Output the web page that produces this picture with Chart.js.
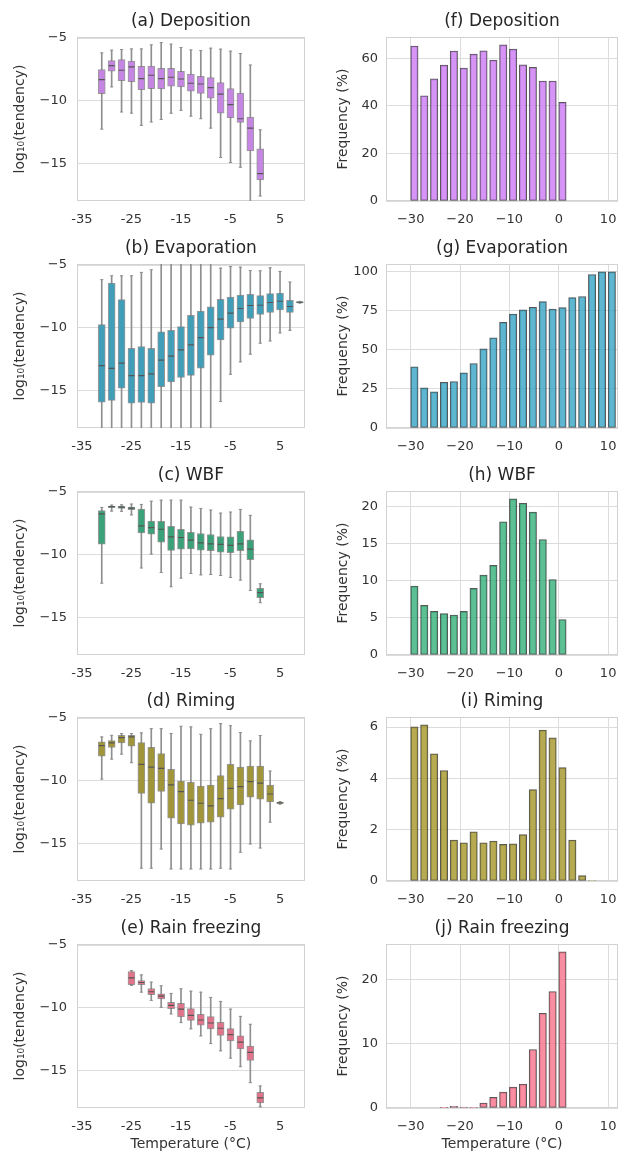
<!DOCTYPE html>
<html>
<head>
<meta charset="utf-8">
<script src="https://cdn.jsdelivr.net/npm/chart.js@4.4.1/dist/chart.umd.min.js"></script>
<style>
    html, body { margin: 0; padding: 0; background: #fff; }
    #fig { position: relative; width: 621px; height: 1153px; overflow: hidden; }
    #fig canvas { position: absolute; }
</style>
</head>
<body>
<div id="fig"></div>
<script>
// Box statistics per 2 °C bin (bin centre), rows are [whisker low, q1, median, q3, whisker high]
const depositionT = [-31, -29, -27, -25, -23, -21, -19, -17, -15, -13, -11, -9, -7, -5, -3, -1, 1];
const depositionBox = [
    [-12.27, -9.44, -8.32, -7.52, -6.19], [-8.9, -7.65, -7.2, -6.8, -5.97],
    [-10.9, -8.4, -7.57, -6.72, -5.92], [-10.99, -8.48, -7.31, -6.85, -5.87],
    [-11.97, -9.12, -8.24, -7.25, -5.87], [-11.7, -9.04, -7.97, -7.23, -5.55],
    [-11.5, -9.07, -8.24, -7.41, -5.36], [-11.0, -8.85, -8.13, -7.41, -5.49],
    [-10.77, -8.91, -8.27, -7.65, -5.76], [-11.23, -9.25, -8.61, -7.87, -5.95],
    [-11.44, -9.41, -8.67, -8.05, -6.0], [-12.19, -9.79, -8.96, -8.16, -5.81],
    [-14.53, -10.99, -9.47, -8.56, -5.89], [-14.93, -11.36, -10.32, -9.04, -6.05],
    [-15.31, -11.73, -11.44, -9.39, -6.24], [-18.5, -14.0, -12.19, -11.31, -7.15],
    [-17.6, -16.32, -15.81, -13.84, -12.32]
];

const evaporationT = [-31, -29, -27, -25, -23, -21, -19, -17, -15, -13, -11, -9, -7, -5, -3, -1, 1, 3, 5, 7, 9];
const evaporationBox = [
    [-18.5, -15.94, -13.03, -9.76, -6.17], [-18.5, -15.8, -13.25, -6.44, -5.86],
    [-18.5, -14.83, -12.82, -7.76, -5.86], [-18.5, -16.02, -13.83, -11.64, -5.86],
    [-18.5, -15.96, -13.83, -11.5, -5.59], [-18.5, -16.02, -13.69, -11.64, -5.38],
    [-18.5, -14.7, -12.59, -10.32, -4.5], [-18.5, -14.33, -12.27, -10.21, -4.5],
    [-18.5, -13.96, -11.77, -9.92, -4.5], [-18.5, -13.8, -11.37, -9.02, -4.5],
    [-18.5, -13.22, -10.79, -8.68, -4.5], [-18.5, -12.19, -10.0, -8.34, -4.5],
    [-15.88, -10.98, -9.31, -7.73, -5.25], [-13.72, -10.03, -8.84, -7.55, -5.12],
    [-12.72, -9.53, -8.47, -7.39, -5.17], [-12.11, -9.26, -8.23, -7.34, -5.44],
    [-11.24, -8.94, -8.21, -7.44, -5.46], [-11.06, -8.79, -7.99, -7.28, -5.22],
    [-10.42, -8.58, -7.89, -7.23, -5.51], [-10.21, -8.79, -8.31, -7.81, -6.36],
    [-8.04, -8.02, -7.97, -7.92, -7.9]
];

const wbfT = [-31, -29, -27, -25, -23, -21, -19, -17, -15, -13, -11, -9, -7, -5, -3, -1, 1];
const wbfBox = [
    [-12.27, -9.16, -6.75, -6.49, -6.23], [-6.52, -6.25, -6.17, -6.12, -6.04],
    [-6.54, -6.31, -6.2, -6.12, -6.02], [-6.83, -6.41, -6.28, -6.2, -5.96],
    [-11.06, -8.26, -7.7, -6.36, -5.99], [-9.95, -8.36, -7.84, -7.31, -5.73],
    [-11.42, -9.0, -7.97, -7.34, -5.65], [-12.56, -9.66, -8.58, -7.73, -5.65],
    [-11.87, -9.55, -8.63, -7.97, -5.65], [-11.5, -9.53, -8.84, -8.21, -6.2],
    [-11.61, -9.63, -9.05, -8.31, -6.31], [-11.58, -9.68, -9.13, -8.39, -6.44],
    [-11.66, -9.79, -9.18, -8.55, -6.68], [-11.82, -9.84, -9.26, -8.58, -6.6],
    [-12.03, -9.68, -9.13, -8.13, -6.39], [-12.85, -10.4, -9.55, -8.81, -6.86],
    [-13.83, -13.43, -13.03, -12.69, -12.32]
];

const rimingT = [-31, -29, -27, -25, -23, -21, -19, -17, -15, -13, -11, -9, -7, -5, -3, -1, 1, 3, 5];
const rimingBox = [
    [-9.87, -8.04, -7.2, -6.9, -6.51], [-8.28, -7.35, -6.98, -6.8, -6.38],
    [-7.88, -6.98, -6.56, -6.38, -6.24], [-8.57, -7.25, -6.51, -6.38, -6.24],
    [-16.98, -11.01, -8.7, -6.96, -6.19], [-16.98, -11.8, -8.92, -7.33, -5.85],
    [-15.45, -10.85, -9.02, -7.83, -5.85], [-17.04, -12.99, -10.34, -9.1, -6.24],
    [-17.04, -13.44, -10.87, -10.03, -5.66], [-17.04, -13.54, -11.56, -10.13, -5.71],
    [-17.04, -13.39, -11.8, -10.42, -6.3], [-17.04, -13.31, -12.01, -10.34, -5.85],
    [-16.98, -12.91, -11.43, -9.6, -5.45], [-17.04, -12.28, -10.61, -8.7, -5.61],
    [-15.71, -11.93, -10.48, -8.92, -6.16], [-15.05, -11.32, -10.08, -8.84, -6.83],
    [-15.37, -11.48, -10.19, -8.84, -6.4], [-13.31, -11.69, -11.06, -10.34, -9.23],
    [-11.87, -11.82, -11.77, -11.72, -11.67]
];

const rainT = [-25, -23, -21, -19, -17, -15, -13, -11, -9, -7, -5, -3, -1, 1];
const rainBox = [
    [-8.23, -8.17, -7.62, -7.12, -7.04], [-8.76, -8.17, -7.99, -7.83, -7.38],
    [-9.42, -8.97, -8.73, -8.47, -7.96], [-9.97, -9.31, -9.07, -8.89, -8.25],
    [-10.5, -10.08, -9.81, -9.58, -8.86], [-11.19, -10.74, -10.11, -9.66, -8.49],
    [-11.69, -11.01, -10.61, -10.08, -8.68], [-12.25, -11.4, -10.98, -10.53, -8.76],
    [-12.86, -11.69, -11.22, -10.71, -9.18], [-13.44, -12.22, -11.64, -11.16, -9.5],
    [-14.02, -12.65, -12.14, -11.67, -10.11], [-14.71, -13.28, -12.75, -12.25, -10.69],
    [-15.98, -14.21, -13.57, -13.07, -11.32], [-17.91, -17.59, -17.2, -16.75, -16.24]
];

// Occurrence frequency (%) per 2 °C bin, bins listed by their lower edge
const depositionBins = [-30, -28, -26, -24, -22, -20, -18, -16, -14, -12, -10, -8, -6, -4, -2, 0];
const depositionFreq = [65.1, 44.2, 51.3, 57.1, 63.0, 55.8, 61.7, 63.1, 59.2, 65.6, 63.8, 57.2, 56.1, 50.4, 50.4, 41.4];

const evaporationBins = [-30, -28, -26, -24, -22, -20, -18, -16, -14, -12, -10, -8, -6, -4, -2, 0, 2, 4, 6, 8, 10];
const evaporationFreq = [39.2, 25.7, 23.1, 29.3, 29.8, 35.3, 41.3, 50.7, 57.8, 67.7, 73.0, 75.6, 77.3, 80.9, 76.2, 77.1, 83.5, 84.2, 98.3, 100, 100];

const wbfBins = [-30, -28, -26, -24, -22, -20, -18, -16, -14, -12, -10, -8, -6, -4, -2, 0];
const wbfFreq = [9.3, 6.7, 5.9, 5.6, 5.4, 5.9, 9.0, 10.8, 12.1, 18.0, 21.1, 20.5, 19.3, 15.6, 10.2, 4.8];

const rimingBins = [-30, -28, -26, -24, -22, -20, -18, -16, -14, -12, -10, -8, -6, -4, -2, 0, 2, 4, 6];
const rimingFreq = [6.01, 6.09, 4.96, 4.31, 1.60, 1.49, 1.92, 1.49, 1.56, 1.43, 1.45, 1.81, 3.56, 5.88, 5.58, 4.42, 1.60, 0.21, 0.02];

const rainBins = [-24, -22, -20, -18, -16, -14, -12, -10, -8, -6, -4, -2, 0];
const rainFreq = [0.1, 0.26, 0.15, 0.1, 0.78, 1.66, 2.49, 3.27, 3.74, 9.14, 14.8, 18.2, 24.4];

// axis ticks
const boxXTicks = [-35, -25, -15, -5, 5];
const boxYTicks = [-15, -10, -5];
const freqXTicks = [-30, -20, -10, 0, 10];

Chart.defaults.font.family = '"DejaVu Sans", sans-serif';
Chart.defaults.color = '#333333';
Chart.defaults.animation = false;
Chart.defaults.events = [];
Chart.defaults.plugins.legend.display = false;
Chart.defaults.plugins.tooltip.enabled = false;

const GRID = '#dcdcdc';
const TITLE_H = 37;
const PLOT_H = 164;
const ROW_STEP = 226.75;
const FIG_H = 1153;

const minus = v => String(v).replace('-', '\u2212');
const fixedTicks = vals => scale => { scale.ticks = vals.map(v => ({ value: v })); };

// light frame around the plot area plus a title centred over it
const panelDeco = {
    id: 'panelDeco',
    beforeDatasetsDraw(chart) {
        const { ctx, chartArea: a } = chart;
        ctx.save();
        ctx.strokeStyle = '#d2d2d2';
        ctx.lineWidth = 1;
        ctx.strokeRect(Math.round(a.left) + 0.5, Math.round(a.top) + 0.5,
            Math.round(a.width) - 1, Math.round(a.height) - 1);
        ctx.restore();
    },
    afterDraw(chart, args, opts) {
        const { ctx, chartArea: a } = chart;
        ctx.save();
        ctx.font = '17px "DejaVu Sans"';
        ctx.fillStyle = '#262626';
        ctx.textAlign = 'center';
        ctx.textBaseline = 'middle';
        ctx.fillText(opts.title, (a.left + a.right) / 2, a.top - 15.5);
        ctx.restore();
    }
};

function addCanvas(row, col) {
    const top = Math.round(TITLE_H + row * ROW_STEP) - TITLE_H;
    const height = row === 4 ? FIG_H - top : TITLE_H + PLOT_H + 26;
    const cv = document.createElement('canvas');
    cv.width = col === 0 ? 310 : 311;
    cv.height = height;
    cv.style.left = (col === 0 ? 0 : 310) + 'px';
    cv.style.top = top + 'px';
    document.getElementById('fig').appendChild(cv);
    return cv;
}

function xTitle(show) {
    return { display: show, text: 'Temperature (°C)', font: { size: 14 }, color: '#333333', padding: 0 };
}

function boxPanel(row, title, temps, stats, fill) {
    const cv = addCanvas(row, 0);
    const xHeight = cv.height - TITLE_H - PLOT_H;
    const col = k => temps.map((t, i) => ({ x: t, y: stats[i][k] }));

    new Chart(cv, {
        type: 'bar',
        data: {
            datasets: [
                {
                    type: 'scatter', data: col(2), order: 0,
                    pointStyle: 'line', pointRadius: 3, pointBorderColor: '#555555', pointBorderWidth: 1.2
                },
                {
                    type: 'scatter', data: col(0).concat(col(4)), order: 1,
                    pointStyle: 'line', pointRadius: 1.6, pointBorderColor: '#8f8f8f', pointBorderWidth: 1
                },
                {
                    data: temps.map((t, i) => ({ x: t, y: [stats[i][1], stats[i][3]] })), order: 2,
                    backgroundColor: fill, borderColor: 'rgba(110,110,110,0.7)', borderWidth: 1,
                    borderSkipped: false, barThickness: 7, grouped: false
                },
                {
                    data: temps.map((t, i) => ({ x: t, y: [stats[i][0], stats[i][4]] })), order: 3,
                    backgroundColor: '#8f8f8f', borderWidth: 0, barThickness: 1, grouped: false
                }
            ]
        },
        options: {
            responsive: false,
            layout: { padding: { top: TITLE_H, left: 0, right: 1, bottom: 0 } },
            plugins: { panelDeco: { title } },
            scales: {
                x: {
                    type: 'linear', min: -36, max: 10, offset: false,
                    grid: { display: false, drawTicks: false }, border: { display: false },
                    afterBuildTicks: fixedTicks(boxXTicks),
                    ticks: { font: { size: 13 }, padding: 11, maxRotation: 0, autoSkip: false, callback: v => String(v) },
                    title: xTitle(row === 4),
                    afterFit: s => { s.height = xHeight; s.paddingLeft = 0; s.paddingRight = 0; }
                },
                y: {
                    type: 'linear', min: -18, max: -4.92,
                    grid: { color: GRID, drawTicks: false }, border: { display: false },
                    afterBuildTicks: fixedTicks(boxYTicks),
                    ticks: { font: { size: 13 }, padding: 10, callback: minus },
                    title: { display: true, text: 'log₁₀(tendency)', font: { size: 14 }, color: '#333333', padding: { top: 11.6, bottom: 0 } },
                    afterFit: s => { s.width = 77; }
                }
            }
        },
        plugins: [panelDeco]
    });
}

function freqPanel(row, title, bins, freq, fill, yTicks) {
    const cv = addCanvas(row, 1);
    const xHeight = cv.height - TITLE_H - PLOT_H;

    new Chart(cv, {
        type: 'bar',
        data: {
            datasets: [{
                // bars sit on the left part of each 2-degree bin
                data: bins.map((t, i) => ({ x: t + 0.75, y: freq[i] })),
                backgroundColor: fill, borderColor: 'rgba(45,45,45,0.8)', borderWidth: 1,
                borderSkipped: false, barThickness: 7.4, grouped: false
            }]
        },
        options: {
            responsive: false,
            layout: { padding: { top: TITLE_H, left: 0, right: 3, bottom: 0 } },
            plugins: { panelDeco: { title } },
            scales: {
                x: {
                    type: 'linear', min: -35, max: 12, offset: false,
                    grid: { color: GRID, drawTicks: false, offset: false }, border: { display: false },
                    afterBuildTicks: fixedTicks(freqXTicks),
                    ticks: { font: { size: 13 }, padding: 11, maxRotation: 0, autoSkip: false, callback: minus },
                    title: xTitle(row === 4),
                    afterFit: s => { s.height = xHeight; s.paddingLeft = 0; s.paddingRight = 0; }
                },
                y: {
                    type: 'linear', min: 0, max: Math.max(...freq) * 1.05,
                    grid: { color: GRID, drawTicks: false }, border: { display: false },
                    afterBuildTicks: fixedTicks(yTicks),
                    ticks: { font: { size: 13 }, padding: 8, callback: minus },
                    title: { display: true, text: 'Frequency (%)', font: { size: 14 }, color: '#333333', padding: { top: 24.6, bottom: 0 } },
                    afterFit: s => { s.width = 76; }
                }
            }
        },
        plugins: [panelDeco]
    });
}

boxPanel(0, '(a) Deposition', depositionT, depositionBox, '#c486e2');
boxPanel(1, '(b) Evaporation', evaporationT, evaporationBox, '#409eb9');
boxPanel(2, '(c) WBF', wbfT, wbfBox, '#3aa178');
boxPanel(3, '(d) Riming', rimingT, rimingBox, '#a09538');
boxPanel(4, '(e) Rain freezing', rainT, rainBox, '#e1748b');

freqPanel(0, '(f) Deposition', depositionBins, depositionFreq, 'rgba(204,121,244,0.8)', [0, 20, 40, 60]);
freqPanel(1, '(g) Evaporation', evaporationBins, evaporationFreq, 'rgba(55,164,197,0.8)', [0, 25, 50, 75, 100]);
freqPanel(2, '(h) WBF', wbfBins, wbfFreq, 'rgba(51,176,121,0.8)', [0, 5, 10, 15, 20]);
freqPanel(3, '(i) Riming', rimingBins, rimingFreq, 'rgba(164,150,40,0.8)', [0, 2, 4, 6]);
freqPanel(4, '(j) Rain freezing', rainBins, rainFreq, 'rgba(247,113,137,0.8)', [0, 10, 20]);
</script>
</body>
</html>
